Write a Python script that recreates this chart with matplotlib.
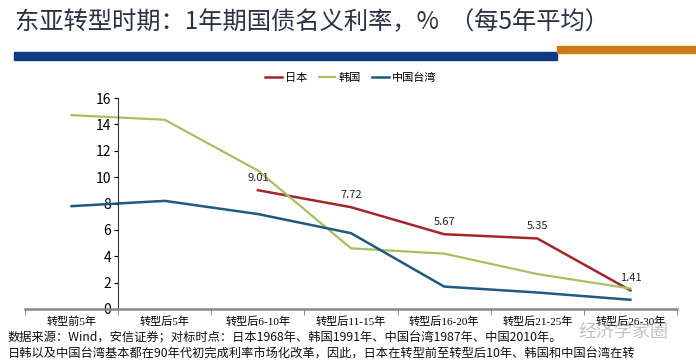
import matplotlib.pyplot as plt
import matplotlib.patches as patches

plt.rcParams['font.family'] = ['Noto Sans CJK SC', 'DejaVu Sans']

categories = ['转型前5年', '转型后5年', '转型后6-10年', '转型后11-15年',
              '转型后16-20年', '转型后21-25年', '转型后26-30年']
japan = [None, None, 9.01, 7.72, 5.67, 5.35, 1.41]
korea = [14.7, 14.35, 10.5, 4.6, 4.2, 2.65, 1.55]
taiwan = [7.8, 8.2, 7.2, 5.75, 1.7, 1.25, 0.7]
japan_labels = ['9.01', '7.72', '5.67', '5.35', '1.41']
yticks = [0, 2, 4, 6, 8, 10, 12, 14, 16]

fig = plt.figure(figsize=(6.96, 3.64), dpi=100)

# title and the two header bars
fig.text(15/696, 1 - 22/364, '东亚转型时期：1年期国债名义利率，%  （每5年平均）',
         fontsize=17.5, color='#2b3340', va='center', ha='left')
fig.patches.append(patches.Rectangle((14/696, 1 - 60/364), 543/696, 8/364,
                                     transform=fig.transFigure, color='#0e3a86'))
fig.patches.append(patches.Rectangle((557/696, 1 - 53/364), 139/696, 7/364,
                                     transform=fig.transFigure, color='#cf7a16'))

ax = fig.add_axes([25/696, 1 - 309/364, 652/696, 211/364])
x = list(range(len(categories)))

jx = [i for i, v in zip(x, japan) if v is not None]
jy = [v for v in japan if v is not None]
ax.plot(jx, jy, color='#a3262a', lw=1.8, label='日本')
ax.plot(x, korea, color='#a8c060', lw=1.6, label='韩国')
ax.plot(x, taiwan, color='#1f5a80', lw=1.8, label='中国台湾')

for i, v, t in zip(jx, jy, japan_labels):
    ax.text(i, v + 0.55, t, ha='center', va='bottom', fontsize=8, color='#222')

ax.set_xlim(-0.5, 6.5)
ax.set_ylim(0, 16)
ax.set_yticks(yticks)
ax.set_yticklabels([str(v) for v in yticks], family=['Liberation Serif'], fontsize=9)
ax.set_xticks(x)
ax.set_xticklabels(categories, family=['Liberation Serif', 'Noto Sans CJK SC'], fontsize=8)
ax.set_xticks([i - 0.5 for i in range(8)], minor=True)
ax.tick_params(axis='x', which='major', length=0, pad=5)
ax.tick_params(axis='x', which='minor', length=4, direction='out', color='#777')
ax.tick_params(axis='y', length=3, direction='out', pad=2)

ax.spines['left'].set_position(('data', 0.5))
ax.spines['left'].set_color('#333')
ax.spines['bottom'].set_color('#888')
ax.spines['bottom'].set_linewidth(1.8)
ax.spines['top'].set_visible(False)
ax.spines['right'].set_visible(False)

fig.legend(loc='center', bbox_to_anchor=(351/696, 1 - 78/364), ncol=3, frameon=False,
           fontsize=8, handlelength=1.5, handletextpad=0.3, columnspacing=1.0)

fig.text(8/696, 1 - 338/364,
         '数据来源：Wind，安信证券；对标时点：日本1968年、韩国1991年、中国台湾1987年、中国2010年。',
         fontsize=8.8, color='#111', va='center')
fig.text(8/696, 1 - 354/364,
         '日韩以及中国台湾基本都在90年代初完成利率市场化改革，因此，日本在转型前至转型后10年、韩国和中国台湾在转',
         fontsize=8.8, color='#111', va='center')
fig.text(668/696, 1 - 332/364, '经济学家圈', fontsize=13, color='#9a9a9a',
         alpha=0.6, ha='right', va='center', style='italic')

fig.savefig('out.png', dpi=100)
